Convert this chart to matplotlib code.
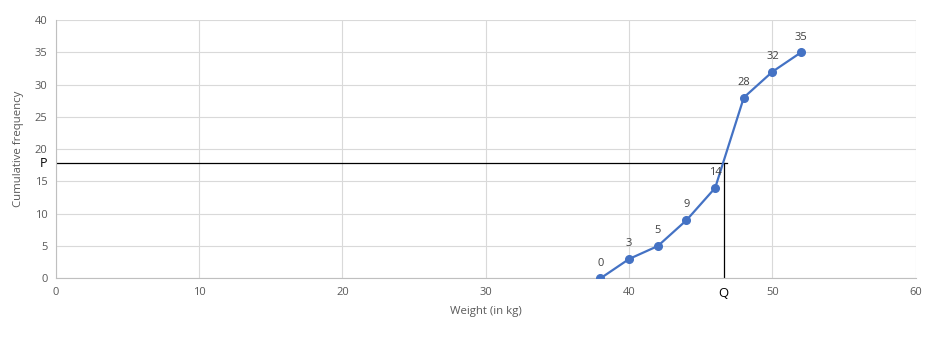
import matplotlib
matplotlib.use("Agg")
import matplotlib.pyplot as plt

weights = [38, 40, 42, 44, 46, 48, 50, 52]
cum_freq = [0, 3, 5, 9, 14, 28, 32, 35]
p_value = 17.8
q_value = 46.6
x_ticks = [0, 10, 20, 30, 40, 50, 60]
y_ticks = [0, 5, 10, 15, 20, 25, 30, 35, 40]

plt.rcParams['font.family'] = ['Open Sans', 'DejaVu Sans']

fig = plt.figure(figsize=(9.33, 3.42), dpi=100)
ax = fig.add_axes([0.0598, 0.1862, 0.9218, 0.7553])

ax.plot(weights, cum_freq, color='#4472C4', linewidth=1.6, marker='o', markersize=5.5, zorder=3)
for x, y in zip(weights, cum_freq):
    ax.annotate(str(y), (x, y), xytext=(0, 7), textcoords='offset points',
                ha='center', va='bottom', fontsize=8, color='#404040')

ax.plot([0, q_value + 0.2], [p_value, p_value], color='black', linewidth=0.9, zorder=2)
ax.plot([q_value, q_value], [0, p_value], color='black', linewidth=0.9, zorder=2)
ax.text(-0.6, p_value, 'P', ha='right', va='center', fontsize=9, color='black')
ax.text(q_value, -1.3, 'Q', ha='center', va='top', fontsize=9.5, color='black')

ax.set_xlim(0, 60)
ax.set_ylim(0, 40)
ax.set_xticks(x_ticks)
ax.set_yticks(y_ticks)
ax.grid(True, color='#D9D9D9', linewidth=0.8)
ax.set_axisbelow(True)
for s in ['top', 'right']:
    ax.spines[s].set_visible(False)
for s in ['left', 'bottom']:
    ax.spines[s].set_color('#BFBFBF')
    ax.spines[s].set_linewidth(0.8)
ax.tick_params(length=0, labelsize=8, colors='#595959', pad=6)
ax.set_xlabel('Weight (in kg)', fontsize=8.2, color='#595959', labelpad=6)
ax.set_ylabel('Cumulative frequency', fontsize=8.2, color='#595959', labelpad=8)

fig.savefig('out.png', dpi=100)
